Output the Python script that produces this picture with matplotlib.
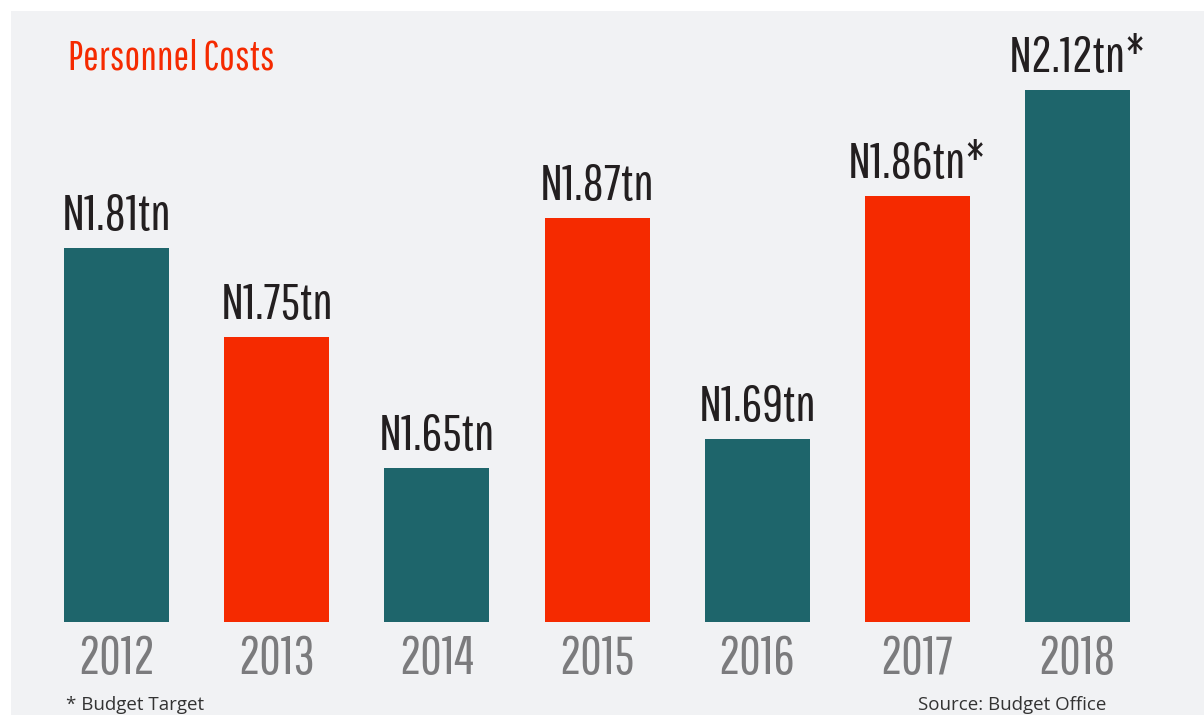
import numpy as np
from matplotlib import pyplot as plt
from matplotlib import font_manager

# datos del grafico
years = ['2012', '2013', '2014', '2015', '2016', '2017', '2018']
labels = ['N1.81tn', 'N1.75tn', 'N1.65tn', 'N1.87tn', 'N1.69tn', 'N1.86tn*', 'N2.12tn*']
# alturas tal como se ven dibujadas (no son proporcionales a las cifras)
bar_heights = [374, 285, 154, 404, 183, 426, 532]
bar_kind = ['teal', 'red', 'teal', 'red', 'teal', 'red', 'teal']

colors = {'teal': '#1e656b', 'red': '#f52a00'}
bg = '#f1f2f4'

# buscar una fuente estrecha instalada
names = {f.name for f in font_manager.fontManager.ttflist}
prefs = ['Pathway Gothic One', 'Oswald', 'Antonio', 'Fjalla One', 'Roboto Condensed']
cond_font = 'DejaVu Sans'
for p in prefs:
    if p in names:
        cond_font = p
        break
foot_font = 'Open Sans'

W, H = 1204, 715
fig = plt.figure(figsize=(W / 100, H / 100), dpi=100)
fig.patch.set_facecolor('white')

# el area gris empieza a 11 px de arriba y de la izquierda
ax = fig.add_axes([11 / W, 0, (W - 11) / W, (H - 11) / H])
ax.set_facecolor(bg)
step = 160.1
x0 = 116.7 - 11
ax.set_xlim(-x0 / step, (W - 11 - x0) / step)
ax.set_ylim(-93, H - 11 - 93)
ax.axis('off')
ax.add_patch(plt.Rectangle((0, 0), 1, 1, transform=ax.transAxes, color=bg, zorder=0))

x = np.arange(len(years))
ax.bar(x, bar_heights, width=105 / step, color=[colors[k] for k in bar_kind], zorder=2)

for xi, h, lab in zip(x, bar_heights, labels):
    ax.text(xi, h + 18, lab, ha='center', va='baseline', fontsize=37,
            family=cond_font, color='#231f20', zorder=3)

for xi, yr in zip(x, years):
    ax.text(xi, -12, yr, ha='center', va='top', fontsize=38,
            family=cond_font, color='#7b7b7d', zorder=3)

fig.text(68 / W, 1 - 38 / H, 'Personnel Costs', ha='left', va='top', fontsize=30,
         family=cond_font, color='#f52a00')
fig.text(66 / W, 5 / H, '* Budget Target', ha='left', va='baseline', fontsize=13.5,
         family=foot_font, color='#333333')
fig.text(1106 / W, 5 / H, 'Source: Budget Office', ha='right', va='baseline', fontsize=13.5,
         family=foot_font, color='#333333')

fig.savefig('out.png', dpi=100)
